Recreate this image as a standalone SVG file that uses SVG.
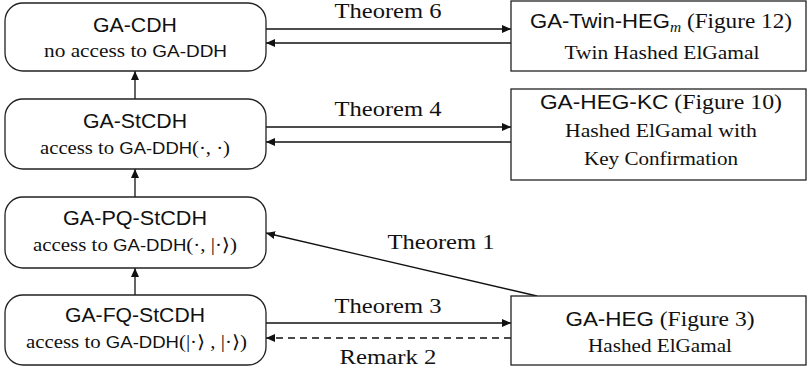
<svg xmlns="http://www.w3.org/2000/svg" width="807" height="370" viewBox="0 0 807 370">
<style>
.node rect{fill:#fff;stroke:#222;stroke-width:1.3}
.sans{font-family:"Liberation Sans","DejaVu Sans",sans-serif}
.serif{font-family:"Liberation Serif","DejaVu Serif",serif}
.title{font-size:20px}
.title .serif{font-size:21px}
.sub{font-size:18px}
.sub .sans{font-size:16px}
.lab{font-size:20px;font-family:"Liberation Serif","DejaVu Serif",serif}
text{fill:#111;text-anchor:middle}
.edge{stroke:#111;stroke-width:1.3;fill:none}
.dash{stroke-dasharray:7 5}
</style>
<defs>
<marker id="ah" viewBox="0 0 9 8" refX="9" refY="4" markerWidth="9" markerHeight="8" markerUnits="userSpaceOnUse" orient="auto"><path d="M0,0 L9,4 L0,8 z" fill="#111"/></marker>
</defs>

<g id="edges">
<path class="edge" d="M135,99 L135,71" marker-end="url(#ah)"/>
<path class="edge" d="M135,197 L135,169" marker-end="url(#ah)"/>
<path class="edge" d="M135,295 L135,268" marker-end="url(#ah)"/>
<path class="edge" d="M266,29 L511,29" marker-end="url(#ah)"/>
<path class="edge" d="M511,43 L266,43" marker-end="url(#ah)"/>
<path class="edge" d="M266,127 L511,127" marker-end="url(#ah)"/>
<path class="edge" d="M511,142 L266,142" marker-end="url(#ah)"/>
<path class="edge" d="M537,296 L266,233" marker-end="url(#ah)"/>
<path class="edge" d="M266,323 L511,323" marker-end="url(#ah)"/>
<path class="edge dash" d="M511,338 L266,338" marker-end="url(#ah)"/>
<text class="lab" x="388" y="18" textLength="107" lengthAdjust="spacingAndGlyphs">Theorem 6</text>
<text class="lab" x="388" y="116" textLength="107" lengthAdjust="spacingAndGlyphs">Theorem 4</text>
<text class="lab" x="441" y="249" textLength="107" lengthAdjust="spacingAndGlyphs">Theorem 1</text>
<text class="lab" x="388" y="313" textLength="107" lengthAdjust="spacingAndGlyphs">Theorem 3</text>
<text class="lab" x="388" y="364" textLength="97" lengthAdjust="spacingAndGlyphs">Remark 2</text>
</g>

<g id="ga-cdh" class="node">
<rect x="5" y="3" width="261" height="68" rx="18"/>
<text class="sans title" x="135" y="32" textLength="84" lengthAdjust="spacingAndGlyphs">GA-CDH</text>
<text class="sub" x="135.5" y="57" textLength="183" lengthAdjust="spacingAndGlyphs"><tspan class="serif">no access to </tspan><tspan class="sans">GA-DDH</tspan></text>
</g>

<g id="ga-stcdh" class="node">
<rect x="5" y="99" width="261" height="70" rx="18"/>
<text class="sans title" x="135" y="128" textLength="104" lengthAdjust="spacingAndGlyphs">GA-StCDH</text>
<text class="sub" x="135" y="154" textLength="190" lengthAdjust="spacingAndGlyphs"><tspan class="serif">access to </tspan><tspan class="sans">GA-DDH</tspan><tspan class="serif">(·, ·)</tspan></text>
</g>

<g id="ga-pq-stcdh" class="node">
<rect x="5" y="197" width="261" height="71" rx="18"/>
<text class="sans title" x="135" y="225" textLength="144" lengthAdjust="spacingAndGlyphs">GA-PQ-StCDH</text>
<text class="sub" x="135" y="251" textLength="204" lengthAdjust="spacingAndGlyphs"><tspan class="serif">access to </tspan><tspan class="sans">GA-DDH</tspan><tspan class="serif">(·, |·⟩)</tspan></text>
</g>

<g id="ga-fq-stcdh" class="node">
<rect x="5" y="295" width="261" height="70" rx="18"/>
<text class="sans title" x="135" y="322" textLength="140" lengthAdjust="spacingAndGlyphs">GA-FQ-StCDH</text>
<text class="sub" x="136.5" y="348" textLength="221" lengthAdjust="spacingAndGlyphs"><tspan class="serif">access to </tspan><tspan class="sans">GA-DDH</tspan><tspan class="serif">(|·⟩ , |·⟩)</tspan></text>
</g>

<g id="ga-twin-heg" class="node">
<rect x="511" y="1" width="295" height="70"/>
<text class="title" x="661" y="28" textLength="262" lengthAdjust="spacingAndGlyphs"><tspan class="sans">GA-Twin-HEG</tspan><tspan class="serif" font-style="italic" style="font-size:14px" dy="4">m</tspan><tspan class="serif" dy="-4"> (Figure 12)</tspan></text>
<text class="serif sub" x="662" y="59" textLength="195" lengthAdjust="spacingAndGlyphs">Twin Hashed ElGamal</text>
</g>

<g id="ga-heg-kc" class="node">
<rect x="511" y="89" width="295" height="91"/>
<text class="title" x="661" y="109" textLength="242" lengthAdjust="spacingAndGlyphs"><tspan class="sans">GA-HEG-KC</tspan><tspan class="serif"> (Figure 10)</tspan></text>
<text class="serif sub" x="661" y="137" textLength="192" lengthAdjust="spacingAndGlyphs">Hashed ElGamal with</text>
<text class="serif sub" x="661" y="165" textLength="154" lengthAdjust="spacingAndGlyphs">Key Confirmation</text>
</g>

<g id="ga-heg" class="node">
<rect x="511" y="296" width="295" height="69"/>
<text class="title" x="660" y="326" textLength="189" lengthAdjust="spacingAndGlyphs"><tspan class="sans">GA-HEG</tspan><tspan class="serif"> (Figure 3)</tspan></text>
<text class="serif sub" x="660" y="352" textLength="144" lengthAdjust="spacingAndGlyphs">Hashed ElGamal</text>
</g>
</svg>
